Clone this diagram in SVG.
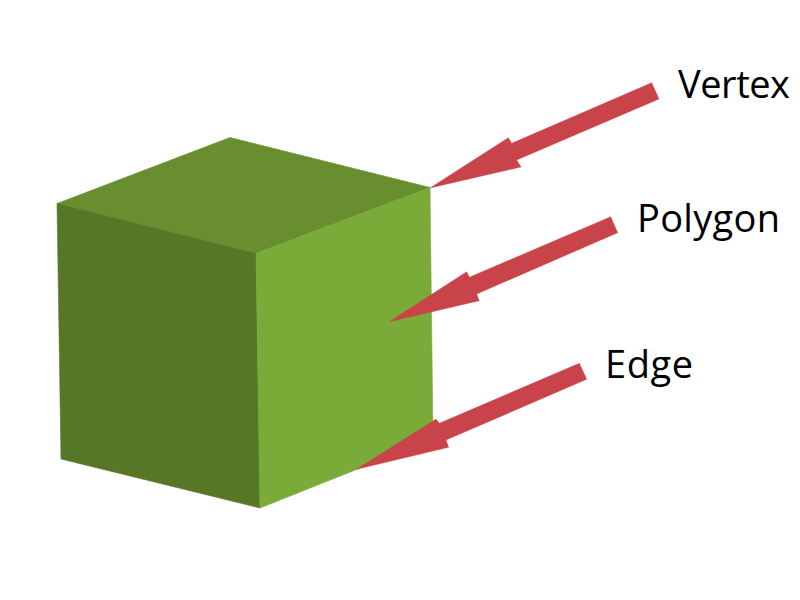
<svg xmlns="http://www.w3.org/2000/svg" width="800" height="600" viewBox="0 0 800 600">
<style>
.arrow{fill:#c9434a;stroke:#c9434a;stroke-width:.4}
.label{font-family:"Open Sans","Noto Sans",sans-serif;font-size:38px;fill:#000}
polygon.face{stroke-width:.6}
</style>
<rect width="800" height="600" fill="#fff"/>
<g id="cube">
<polygon class="face" points="57,203.5 230,137.5 430,187.5 256,253.5" fill="#688e30" stroke="#688e30"/>
<polygon class="face" points="57,203.5 256,253.5 260,508 61,459" fill="#567725" stroke="#567725"/>
<polygon class="face" points="256,253.5 430,187.5 433,439 260,508" fill="#7aaa37" stroke="#7aaa37"/>
</g>
<g id="connectors">
<polygon class="arrow" points="651.7,82.7 659,99 516.7,160 521,167 430,188 508.3,137.7 511.7,143.3"/>
<polygon class="arrow" points="610.7,216.7 617.7,232.7 476.7,294 479.3,300.7 389.3,321.7 466.7,271.7 469.3,277.3"/>
<polygon class="arrow" points="579.3,363.3 586.7,379.3 446,440 448.7,447.3 356.7,469.3 436,419 439.3,423.3"/>
</g>
<g id="vertex"><text class="label" x="678" y="98" textLength="112">Vertex</text></g>
<g id="polygon"><text class="label" x="637" y="232" textLength="143">Polygon</text></g>
<g id="edge"><text class="label" x="605" y="378" textLength="88">Edge</text></g>
</svg>
